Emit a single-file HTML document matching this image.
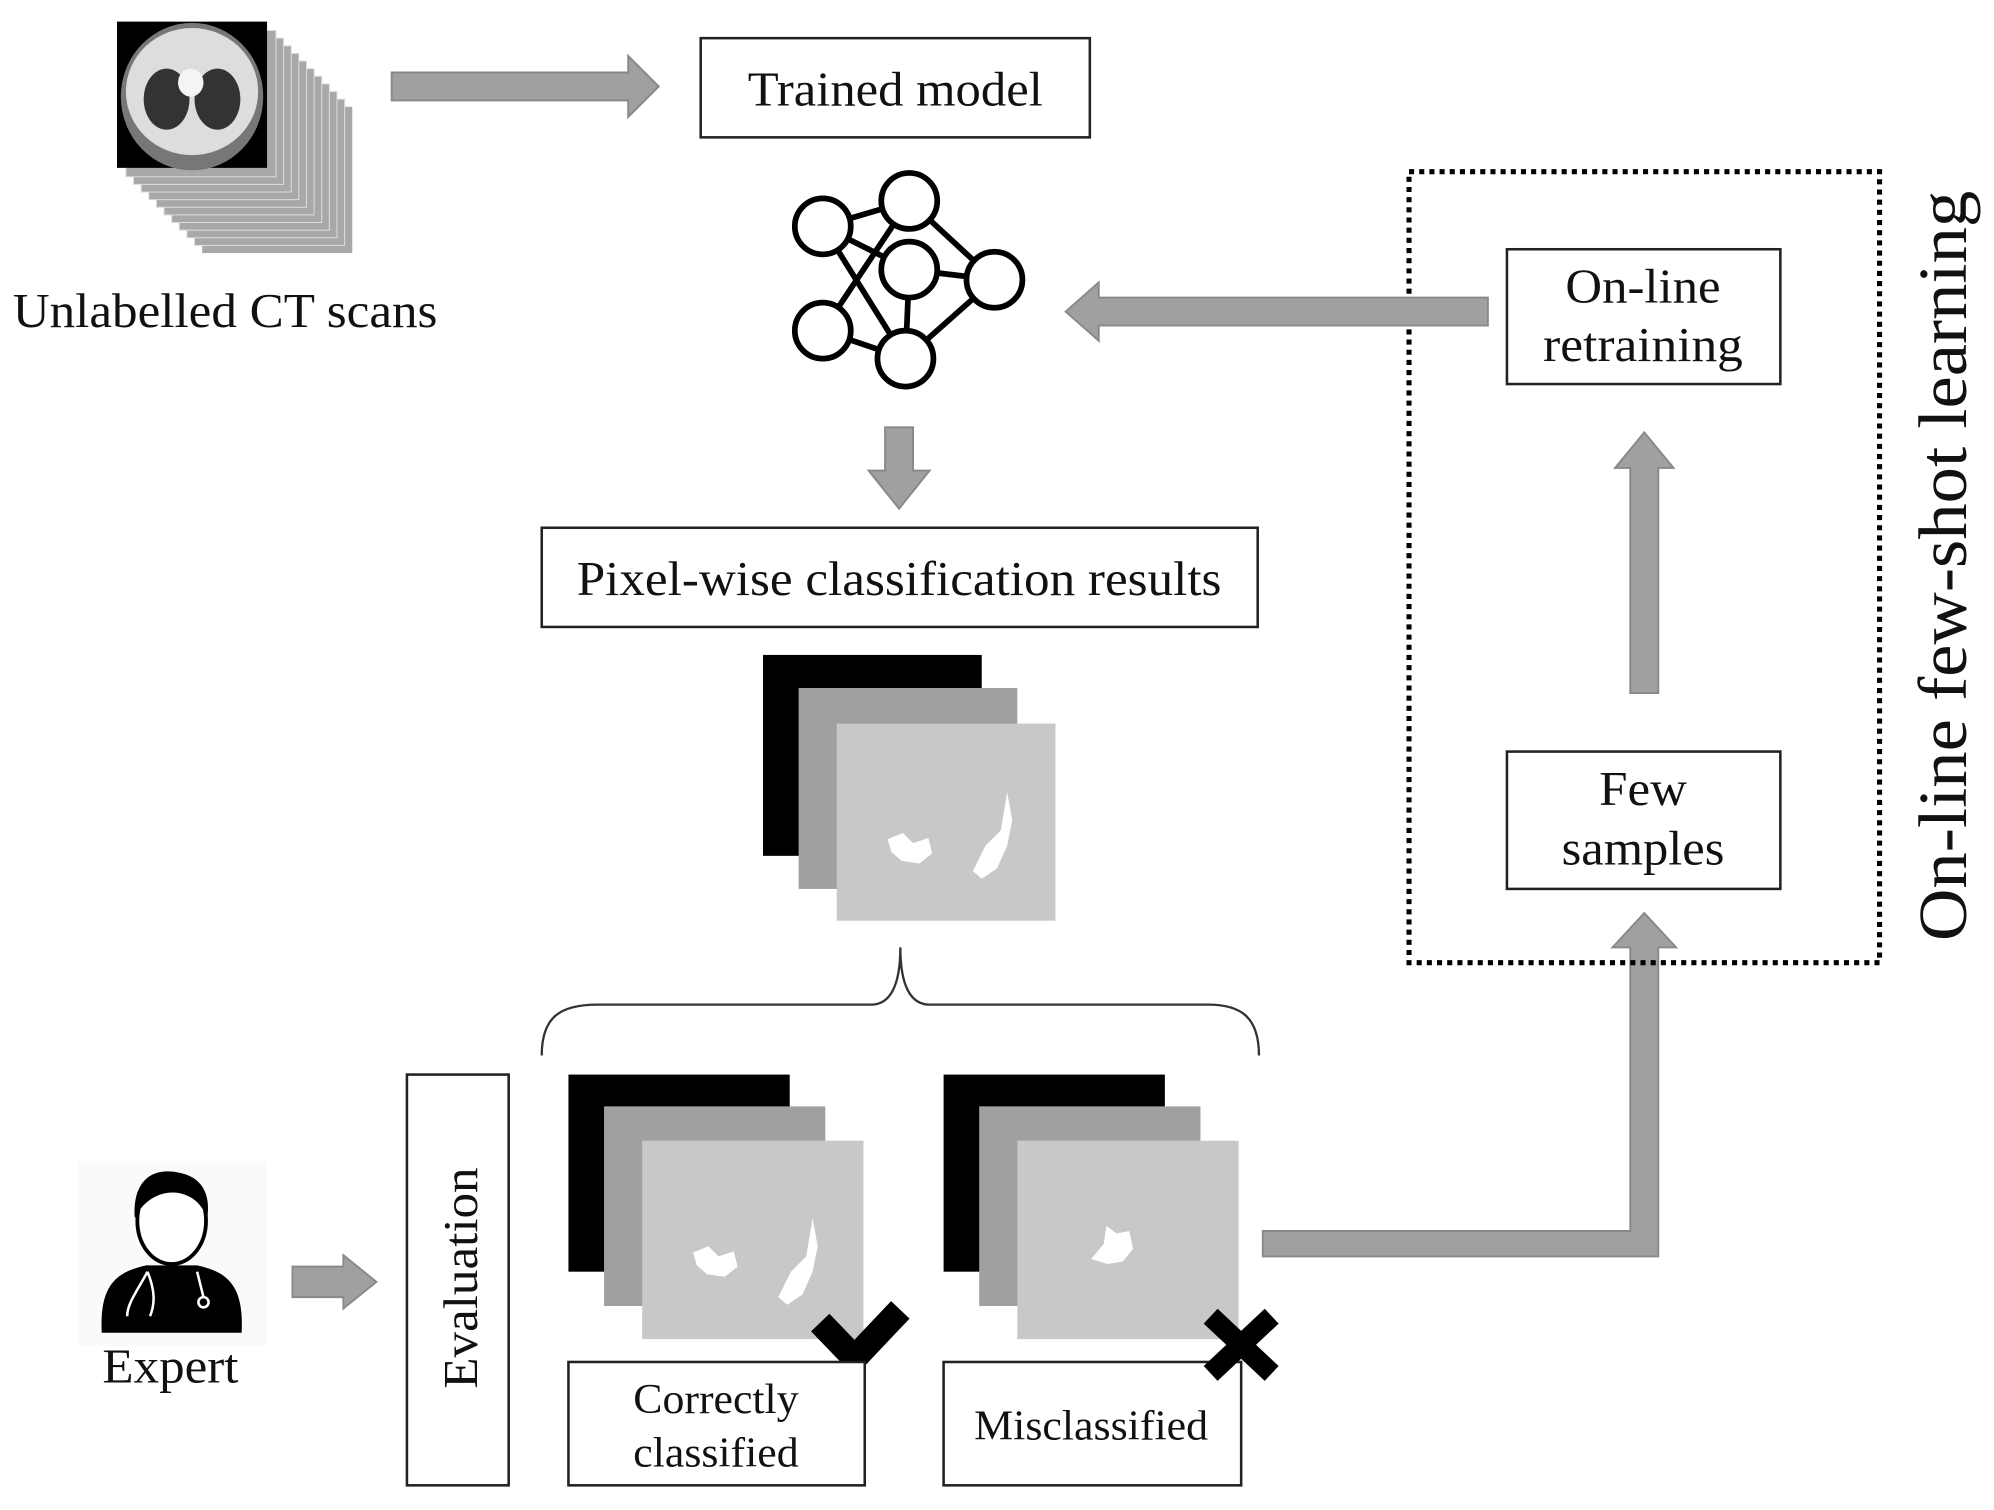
<!DOCTYPE html>
<html><head><style>html,body{margin:0;padding:0;background:#fff}svg{display:block}</style></head>
<body>
<svg width="1994" height="1510" viewBox="0 0 1568 1187.4" preserveAspectRatio="none" xmlns="http://www.w3.org/2000/svg" font-family="'Liberation Serif', serif">
<!-- CT stack -->
<g>
<rect x="159" y="84" width="118" height="115" fill="#a8a8a8"/>
<rect x="153" y="78" width="118" height="115" fill="#a8a8a8" stroke="#ddd" stroke-width="0.8"/>
<rect x="147" y="72" width="118" height="115" fill="#a8a8a8" stroke="#ddd" stroke-width="0.8"/>
<rect x="141" y="66" width="118" height="115" fill="#a8a8a8" stroke="#ddd" stroke-width="0.8"/>
<rect x="135" y="60" width="118" height="115" fill="#a8a8a8" stroke="#ddd" stroke-width="0.8"/>
<rect x="129" y="54" width="118" height="115" fill="#a8a8a8" stroke="#ddd" stroke-width="0.8"/>
<rect x="123" y="48" width="118" height="115" fill="#a8a8a8" stroke="#ddd" stroke-width="0.8"/>
<rect x="117" y="42" width="118" height="115" fill="#a8a8a8" stroke="#ddd" stroke-width="0.8"/>
<rect x="111" y="36" width="118" height="115" fill="#a8a8a8" stroke="#ddd" stroke-width="0.8"/>
<rect x="105" y="30" width="118" height="115" fill="#a8a8a8" stroke="#ddd" stroke-width="0.8"/>
<rect x="99" y="24" width="118" height="115" fill="#a8a8a8" stroke="#ddd" stroke-width="0.8"/>
<rect x="92" y="17" width="118" height="115" fill="#000"/>
<ellipse cx="151" cy="76" rx="56" ry="58" fill="#777"/>
<ellipse cx="151" cy="72" rx="52" ry="50" fill="#ddd"/>
<ellipse cx="131" cy="78" rx="18" ry="24" fill="#333"/>
<ellipse cx="171" cy="78" rx="18" ry="24" fill="#333"/>
<ellipse cx="150" cy="65" rx="10" ry="11" fill="#f4f4f4"/>
</g>
<text x="177" y="257" font-size="38" text-anchor="middle" fill="#111" textLength="334" lengthAdjust="spacingAndGlyphs">Unlabelled CT scans</text>
<polygon points="308,57 494,57 494,44 518,68 494,92 494,79 308,79" fill="#a0a0a0" stroke="#888" stroke-width="1.5"/>
<rect x="551" y="30" width="306" height="78" fill="#fff" stroke="#222" stroke-width="2"/>
<text x="704" y="83" font-size="38" text-anchor="middle" fill="#111" textLength="232" lengthAdjust="spacingAndGlyphs">Trained model</text>
<!-- NN icon -->
<g stroke="#000" stroke-width="4.5" fill="#fff">
<line x1="647" y1="178" x2="715" y2="158"/>
<line x1="647" y1="178" x2="715" y2="212"/>
<line x1="715" y1="158" x2="647" y2="260"/>
<line x1="715" y1="158" x2="782" y2="220"/>
<line x1="647" y1="178" x2="712" y2="282"/>
<line x1="715" y1="212" x2="782" y2="220"/>
<line x1="715" y1="212" x2="712" y2="282"/>
<line x1="647" y1="260" x2="712" y2="282"/>
<line x1="782" y1="220" x2="712" y2="282"/>
<circle cx="647" cy="178" r="22"/><circle cx="715" cy="158" r="22"/><circle cx="715" cy="212" r="22"/>
<circle cx="782" cy="220" r="22"/><circle cx="647" cy="260" r="22"/><circle cx="712" cy="282" r="22"/>
</g>
<polygon points="696,336 718,336 718,370 731,370 707,400 683,370 696,370" fill="#a0a0a0" stroke="#888" stroke-width="1.5"/>
<rect x="426" y="415" width="563" height="78" fill="#fff" stroke="#222" stroke-width="2"/>
<text x="707" y="468" font-size="38" text-anchor="middle" fill="#111" textLength="507" lengthAdjust="spacingAndGlyphs">Pixel-wise classification results</text>
<rect x="600" y="515" width="172" height="158" fill="#000"/>
<rect x="628" y="541" width="172" height="158" fill="#a0a0a0"/>
<rect x="658" y="569" width="172" height="155" fill="#c8c8c8"/>
<g fill="#fff"><path d="M698,660 l12,-5 8,8 12,-4 3,12 -10,8 -14,-2 -8,-7z"/><path d="M765,685 l10,-20 12,-12 5,-30 4,22 -4,20 -8,18 -12,8z"/></g>
<path d="M426,830 C426,800 440,790 470,790 L685,790 C700,790 708,775 708,745 C708,775 716,790 731,790 L950,790 C976,790 990,800 990,830" fill="none" stroke="#333" stroke-width="1.8"/>
<rect x="320" y="845" width="80" height="323" fill="#fff" stroke="#222" stroke-width="2"/>
<text transform="translate(375,1005) rotate(-90)" font-size="38" text-anchor="middle" fill="#111" textLength="174" lengthAdjust="spacingAndGlyphs">Evaluation</text>
<rect x="447" y="845" width="174" height="155" fill="#000"/>
<rect x="475" y="870" width="174" height="157" fill="#a0a0a0"/>
<rect x="505" y="897" width="174" height="156" fill="#c8c8c8"/>
<g fill="#fff"><path d="M545,985 l12,-5 8,8 12,-4 3,12 -10,8 -14,-2 -8,-7z"/><path d="M612,1020 l10,-20 12,-12 5,-30 4,22 -4,20 -8,18 -12,8z"/></g>
<polyline points="645,1040 672,1068 708,1030" fill="none" stroke="#000" stroke-width="20"/>
<rect x="447" y="1071" width="233" height="97" fill="#fff" stroke="#222" stroke-width="2"/>
<text x="563" y="1111" font-size="33" text-anchor="middle" fill="#111" textLength="130" lengthAdjust="spacingAndGlyphs">Correctly</text>
<text x="563" y="1153" font-size="33" text-anchor="middle" fill="#111" textLength="130" lengthAdjust="spacingAndGlyphs">classified</text>
<rect x="742" y="845" width="174" height="155" fill="#000"/>
<rect x="770" y="870" width="174" height="157" fill="#a0a0a0"/>
<rect x="800" y="897" width="174" height="156" fill="#c8c8c8"/>
<path d="M858,990 l10,-12 2,-14 8,6 10,-2 3,14 -8,10 -12,2z" fill="#fff"/>
<rect x="742" y="1071" width="234" height="97" fill="#fff" stroke="#222" stroke-width="2"/>
<text x="858" y="1132" font-size="33" text-anchor="middle" fill="#111" textLength="184" lengthAdjust="spacingAndGlyphs">Misclassified</text>
<g stroke="#000" stroke-width="16"><line x1="952" y1="1035" x2="1000" y2="1080"/><line x1="1000" y1="1035" x2="952" y2="1080"/></g>
<rect x="62" y="913" width="148" height="145" fill="#fafafa"/>
<path d="M80,1048 C78,1010 92,1000 115,995 L155,995 C178,1000 192,1010 190,1048 Z" fill="#000"/>
<ellipse cx="135" cy="960" rx="27" ry="34" fill="#fff" stroke="#000" stroke-width="3"/>
<path d="M106,958 C104,928 120,918 140,922 C158,925 166,938 163,958 C158,945 150,940 140,938 C125,936 112,945 106,958 Z" fill="#000"/>
<path d="M116,1000 C108,1015 100,1025 100,1035 M116,1000 C122,1015 122,1025 118,1035 M155,1000 L160,1020" fill="none" stroke="#fff" stroke-width="2"/>
<circle cx="160" cy="1024" r="4" fill="none" stroke="#fff" stroke-width="2"/>
<text x="134" y="1087" font-size="38" text-anchor="middle" fill="#111" textLength="107" lengthAdjust="spacingAndGlyphs">Expert</text>
<polygon points="230,996 270,996 270,987 296,1008 270,1029 270,1020 230,1020" fill="#a0a0a0" stroke="#888" stroke-width="1.5"/>
<polygon points="993,968 1282,968 1282,745 1268,745 1293,718 1318,745 1304,745 1304,988 993,988" fill="#a0a0a0" stroke="#888" stroke-width="1.5"/>
<rect x="1108" y="135" width="370" height="622" fill="none" stroke="#000" stroke-width="4" stroke-dasharray="4,4"/>
<rect x="1185" y="591" width="215" height="108" fill="#fff" stroke="#222" stroke-width="2"/>
<text x="1292" y="633" font-size="38" text-anchor="middle" fill="#111" textLength="69" lengthAdjust="spacingAndGlyphs">Few</text>
<text x="1292" y="680" font-size="38" text-anchor="middle" fill="#111" textLength="128" lengthAdjust="spacingAndGlyphs">samples</text>
<rect x="1185" y="196" width="215" height="106" fill="#fff" stroke="#222" stroke-width="2"/>
<text x="1292" y="238" font-size="38" text-anchor="middle" fill="#111" textLength="122" lengthAdjust="spacingAndGlyphs">On-line</text>
<text x="1292" y="284" font-size="38" text-anchor="middle" fill="#111" textLength="157" lengthAdjust="spacingAndGlyphs">retraining</text>
<polygon points="1282,545 1304,545 1304,368 1316,368 1293,340 1270,368 1282,368" fill="#a0a0a0" stroke="#888" stroke-width="1.5"/>
<polygon points="1170,234 1170,256 864,256 864,268 838,245 864,222 864,234" fill="#a0a0a0" stroke="#888" stroke-width="1.5"/>
<text transform="translate(1546,445) rotate(-90)" font-size="54" text-anchor="middle" fill="#111" textLength="590" lengthAdjust="spacingAndGlyphs">On-line few-shot learning</text>
</svg>
</body></html>
